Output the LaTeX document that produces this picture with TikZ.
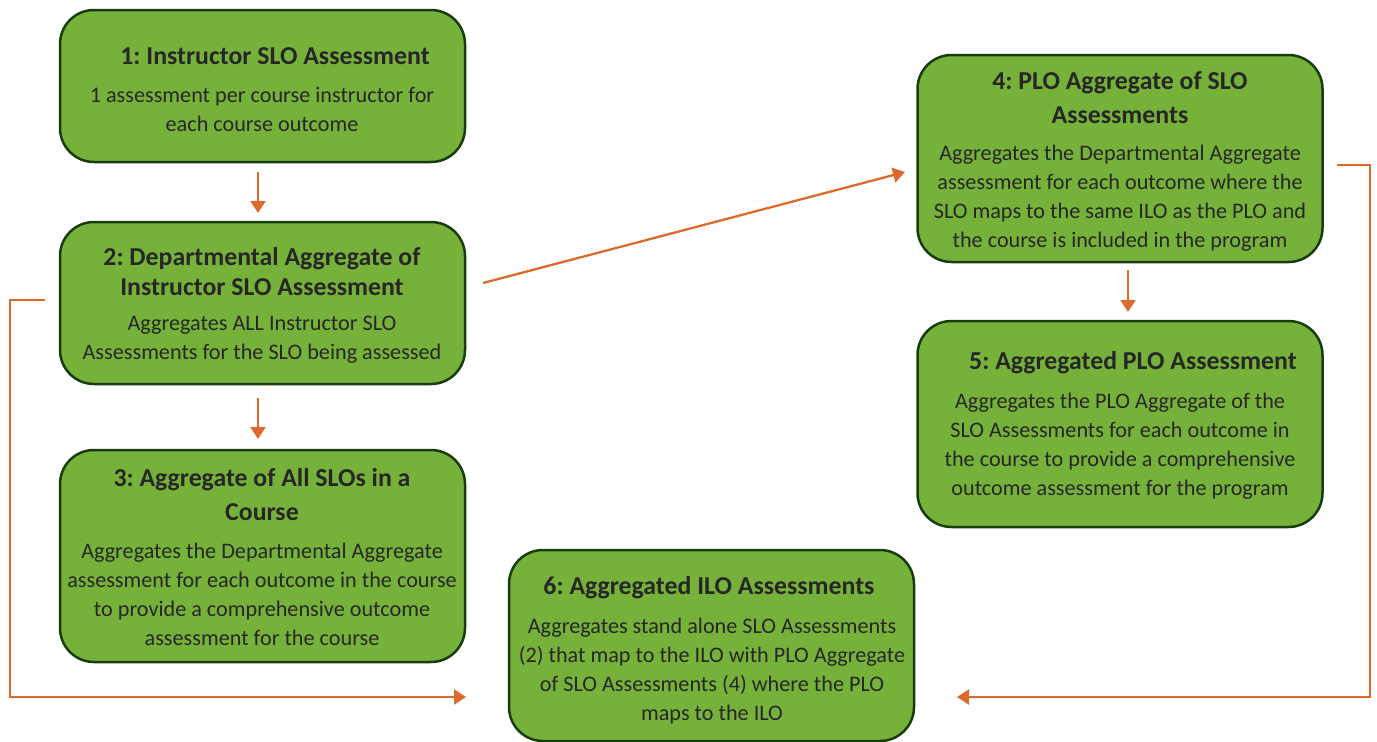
\documentclass[tikz,border=0pt]{standalone}
\usepackage{fontspec}
\setmainfont{Carlito}
\usetikzlibrary{arrows.meta}
\definecolor{boxfill}{RGB}{118,178,58}
\definecolor{boxline}{RGB}{24,60,12}
\definecolor{txt}{RGB}{38,38,38}
\definecolor{arr}{RGB}{222,105,45}
\frenchspacing
\tikzset{
  box/.style={rectangle, draw=boxline, line width=2.5pt, fill=boxfill, rounded corners=34pt, inner sep=0pt, minimum width=405pt},
  ttl/.style={text=txt, align=center, font=\fontsize{25.8}{30}\selectfont\bfseries, inner sep=0pt},
  bdy/.style={text=txt, align=center, font=\fontsize{22.2}{29}\selectfont, inner sep=0pt},
  conn/.style={draw=arr, line width=2.3pt, -{Triangle[width=15pt,length=12pt]}},
}
\begin{document}
\begin{tikzpicture}[x=1pt,y=-1pt]
\useasboundingbox (0,0) rectangle (1377,742);
% boxes
\node[box, minimum height=152pt] (b1) at (262.5,86) {};
\node[box, minimum height=162pt] (b2) at (262.5,303) {};
\node[box, minimum height=212pt] (b3) at (262.5,556) {};
\node[box, minimum height=207pt] (b4) at (1120,158.5) {};
\node[box, minimum height=206pt] (b5) at (1120,424) {};
\node[box, minimum height=191pt] (b6) at (711.5,645.5) {};
% texts
\node[ttl] (t1) at (275,56) {1: Instructor SLO Assessment};
\node[bdy] (d1) at (262,109.5) {1 assessment per course instructor for\\each course outcome};
\node[ttl] (t2) at (262,271.5) {2: Departmental Aggregate of\\Instructor SLO Assessment};
\node[bdy] (d2) at (262,340) {Aggregates ALL Instructor SLO\\Assessments for the SLO being assessed};
\node[ttl, font=\fontsize{25.8}{34}\selectfont\bfseries] (t3) at (262,495) {3: Aggregate of All SLOs in a\\Course};
\node[bdy] (d3) at (262,594.5) {Aggregates the Departmental Aggregate\\assessment for each outcome in the course\\to provide a comprehensive outcome\\assessment for the course};
\node[ttl, font=\fontsize{25.8}{34}\selectfont\bfseries] (t4) at (1120,98) {4: PLO Aggregate of SLO\\Assessments};
\node[bdy] (d4) at (1120,198) {Aggregates the Departmental Aggregate\\assessment for each outcome where the\\SLO maps to the same ILO as the PLO and\\the course is included in the program};
\node[ttl] (t5) at (1133,363) {5: Aggregated PLO Assessment};
\node[bdy] (d5) at (1120,446.5) {Aggregates the PLO Aggregate of the\\SLO Assessments for each outcome in\\the course to provide a comprehensive\\outcome assessment for the program};
\node[ttl] (t6) at (709,588) {6: Aggregated ILO Assessments};
\node[bdy] (d6) at (712,671.5) {Aggregates stand alone SLO Assessments\\(2) that map to the ILO with PLO Aggregate\\of SLO Assessments (4) where the PLO\\maps to the ILO};
% connector end points
\coordinate (a1s) at (258,172);
\coordinate (a1e) at (258,213);
\coordinate (a2s) at (258,398);
\coordinate (a2e) at (258,439);
\coordinate (a3s) at (483,283);
\coordinate (a3e) at (905,172);
\coordinate (a4s) at (1128,270);
\coordinate (a4e) at (1128,312);
\coordinate (ls) at (45,300);
\coordinate (lc1) at (10,300);
\coordinate (lc2) at (10,697);
\coordinate (le) at (466,697);
\coordinate (rs) at (1337,165);
\coordinate (rc1) at (1370,165);
\coordinate (rc2) at (1370,697);
\coordinate (re) at (957,697);
% connectors
\draw[conn] (a1s) -- (a1e);
\draw[conn] (a2s) -- (a2e);
\draw[conn] (a3s) -- (a3e);
\draw[conn] (a4s) -- (a4e);
\draw[conn] (ls) -- (lc1) -- (lc2) -- (le);
\draw[conn] (rs) -- (rc1) -- (rc2) -- (re);
\end{tikzpicture}
\end{document}
